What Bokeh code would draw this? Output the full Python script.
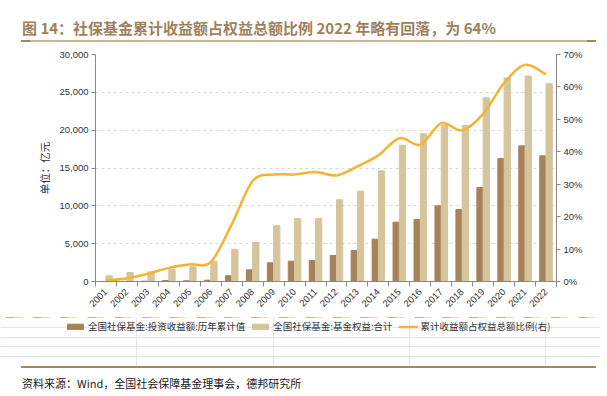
import numpy as np
from bokeh.plotting import figure
from bokeh.models import (Range1d, LinearAxis, FixedTicker, NumeralTickFormatter,
                          PrintfTickFormatter, Legend, LegendItem, Div, ColumnDataSource)
from bokeh.layouts import column, row
from bokeh.embed import file_html
from bokeh.resources import INLINE

years = [str(y) for y in range(2001, 2023)]
income = [5, 15, 40, 140, 100, 170, 750, 1540, 2470, 2690, 2780, 3440, 4100, 5590,
          7840, 8200, 10000, 9520, 12430, 16260, 17930, 16610]
equity = [750, 1190, 1280, 1630, 1940, 2690, 4270, 5150, 7360, 8330, 8330, 10800,
          11940, 14630, 18020, 19520, 20620, 20620, 24280, 26880, 27150, 26130]
ratio = [0.3, 1.0, 2.4, 4.2, 5.3, 6.0, 17.6, 31.0, 33.0, 33.0, 33.8, 32.7, 35.5,
         38.9, 44.2, 42.2, 48.8, 46.6, 51.7, 61.2, 66.8, 63.8]

name_income = "全国社保基金:投资收益额:历年累计值"
name_equity = "全国社保基金:基金权益:合计"
name_ratio = "累计收益额占权益总额比例(右)"
title_text = "图 14：社保基金累计收益额占权益总额比例 2022 年略有回落，为 64%"
source_text = "资料来源：Wind，全国社会保障基金理事会，德邦研究所"

C_INC = "#a6825b"
C_EQ = "#d6c59c"
C_LINE = "#f6b230"
TXT = "#333333"
FONT = "Liberation Sans"
CJK = "Noto Sans CJK SC"

n = len(years)
xc = np.arange(n) + 0.5

# Catmull-Rom -> cubic bezier control points for a smooth drawing of the ratio line
pts_x = np.array(xc)
pts_y = np.array(ratio, dtype=float)
px = np.concatenate([[pts_x[0]], pts_x, [pts_x[-1]]])
py = np.concatenate([[pts_y[0]], pts_y, [pts_y[-1]]])
bz = dict(x0=px[1:-2], y0=py[1:-2], x1=px[2:-1], y1=py[2:-1],
          cx0=px[1:-2] + (px[2:-1] - px[0:-3]) / 6.0,
          cy0=py[1:-2] + (py[2:-1] - py[0:-3]) / 6.0,
          cx1=px[2:-1] - (px[3:] - px[1:-2]) / 6.0,
          cy1=py[2:-1] - (py[3:] - py[1:-2]) / 6.0)

W = 600
p = figure(frame_width=461, frame_height=227, output_backend="svg", toolbar_location=None,
           x_range=Range1d(0, n), y_range=Range1d(0, 30000),
           min_border_left=95, min_border_right=44, min_border_top=10,
           min_border_bottom=36)
p.outline_line_color = None
p.background_fill_color = "white"
p.border_fill_color = "white"

p.extra_y_ranges = {"pct": Range1d(0, 70)}

src = ColumnDataSource(dict(x=xc, xi=xc - 0.15, xe=xc + 0.15, inc=income, eq=equity, r=ratio))
p.vbar(x="xi", top="inc", width=0.3, color=C_INC, source=src)
p.vbar(x="xe", top="eq", width=0.3, color=C_EQ, source=src)
p.bezier(line_color=C_LINE, line_width=2.5, y_range_name="pct", **bz)

# axes
p.xaxis.ticker = FixedTicker(ticks=list(xc), minor_ticks=list(np.arange(n + 1)))
p.xaxis.major_label_overrides = {float(v): y for v, y in zip(xc, years)}
p.xaxis.major_label_orientation = np.pi / 4
p.xaxis.major_tick_line_color = None
p.xaxis.minor_tick_line_color = "#888888"
p.xaxis.minor_tick_in = 0
p.xaxis.minor_tick_out = 5
p.xaxis.axis_line_color = "#888888"
p.xaxis.major_label_text_font = FONT
p.xaxis.major_label_text_font_size = "9.5px"
p.xaxis.major_label_text_color = TXT
p.xaxis.major_label_standoff = 3

p.yaxis.ticker = FixedTicker(ticks=list(range(0, 30001, 5000)))
p.yaxis.formatter = NumeralTickFormatter(format="0,0")
p.yaxis.axis_label = "单位：亿元"
p.yaxis.axis_label_text_font = CJK
p.yaxis.axis_label_text_font_style = "normal"
p.yaxis.axis_label_text_font_size = "10.5px"
p.yaxis.axis_label_text_color = TXT
p.yaxis.axis_label_standoff = 4

ra = LinearAxis(y_range_name="pct", ticker=FixedTicker(ticks=list(range(0, 71, 10))),
                formatter=PrintfTickFormatter(format="%d%%"))
p.add_layout(ra, "right")

for ax in (p.yaxis[0], ra):
    ax.axis_line_color = "#888888"
    ax.major_tick_line_color = "#888888"
    ax.major_tick_in = 0
    ax.major_tick_out = 4
    ax.minor_tick_line_color = None
    ax.major_label_text_font = FONT
    ax.major_label_text_font_size = "9.5px"
    ax.major_label_text_color = TXT
    ax.major_label_standoff = 3

p.xgrid.grid_line_color = None
p.ygrid.grid_line_color = "#d9d9d9"
p.ygrid.grid_line_dash = "3 3"
p.ygrid.ticker = p.yaxis[0].ticker

# legend strip: a frame-only figure whose renderers lie outside its visible range
pl = figure(width=W, height=49, output_backend="svg", toolbar_location=None,
            x_range=Range1d(0, n), y_range=Range1d(-20, -10),
            min_border=0, x_axis_location=None, y_axis_location=None)
pl.outline_line_color = None
pl.border_fill_color = "white"
pl.background_fill_color = "white"
pl.extra_y_ranges = {"pct": Range1d(-20, -10)}
l_inc = pl.vbar(x="xi", top="inc", width=0.3, color=C_INC, source=src)
l_eq = pl.vbar(x="xe", top="eq", width=0.3, color=C_EQ, source=src)
l_line = pl.bezier(line_color=C_LINE, line_width=2.5, y_range_name="pct", **bz)

legend = Legend(items=[LegendItem(label=name_income, renderers=[l_inc]),
                       LegendItem(label=name_equity, renderers=[l_eq]),
                       LegendItem(label=name_ratio, renderers=[l_line])],
                orientation="horizontal", location=(65, 33),
                border_line_color=None, background_fill_alpha=0,
                label_text_font=CJK, label_text_font_size="9.5px",
                label_text_color=TXT, glyph_width=20, glyph_height=7,
                label_height=12, label_standoff=3, spacing=5,
                padding=0, margin=0)
pl.add_layout(legend, "center")

title = Div(text=(
    '<div style="width:575px;margin-left:21px;height:42px;'
    'border-bottom:2px solid #c9b496;position:relative;">'
    f'<div style="position:absolute;left:1px;top:17px;font-family:\'{CJK}\';'
    f'font-size:15px;font-weight:bold;color:#a07f5c;white-space:nowrap;">{title_text}</div>'
    '<div style="position:absolute;left:0;bottom:-2px;width:9px;height:2px;background:#a5835e;"></div>'
    '<div style="position:absolute;right:0;bottom:-2px;width:9px;height:2px;background:#a5835e;"></div>'
    '</div>'), width=W, height=44, margin=(0, 0, 0, 0))

source = Div(text=(
    '<div style="width:575px;margin-left:21px;height:26px;'
    'border-top:2px solid #a8865f;position:relative;">'
    f'<div style="position:absolute;left:1px;top:8px;font-family:\'{CJK}\';'
    f'font-size:11px;color:#222;white-space:nowrap;">{source_text}</div>'
    '</div>'), width=W, height=28, margin=(0, 0, 0, 0))

layout = column(title, p, row(pl), source, spacing=0)
open("out.html", "w").write(file_html(layout, INLINE))
